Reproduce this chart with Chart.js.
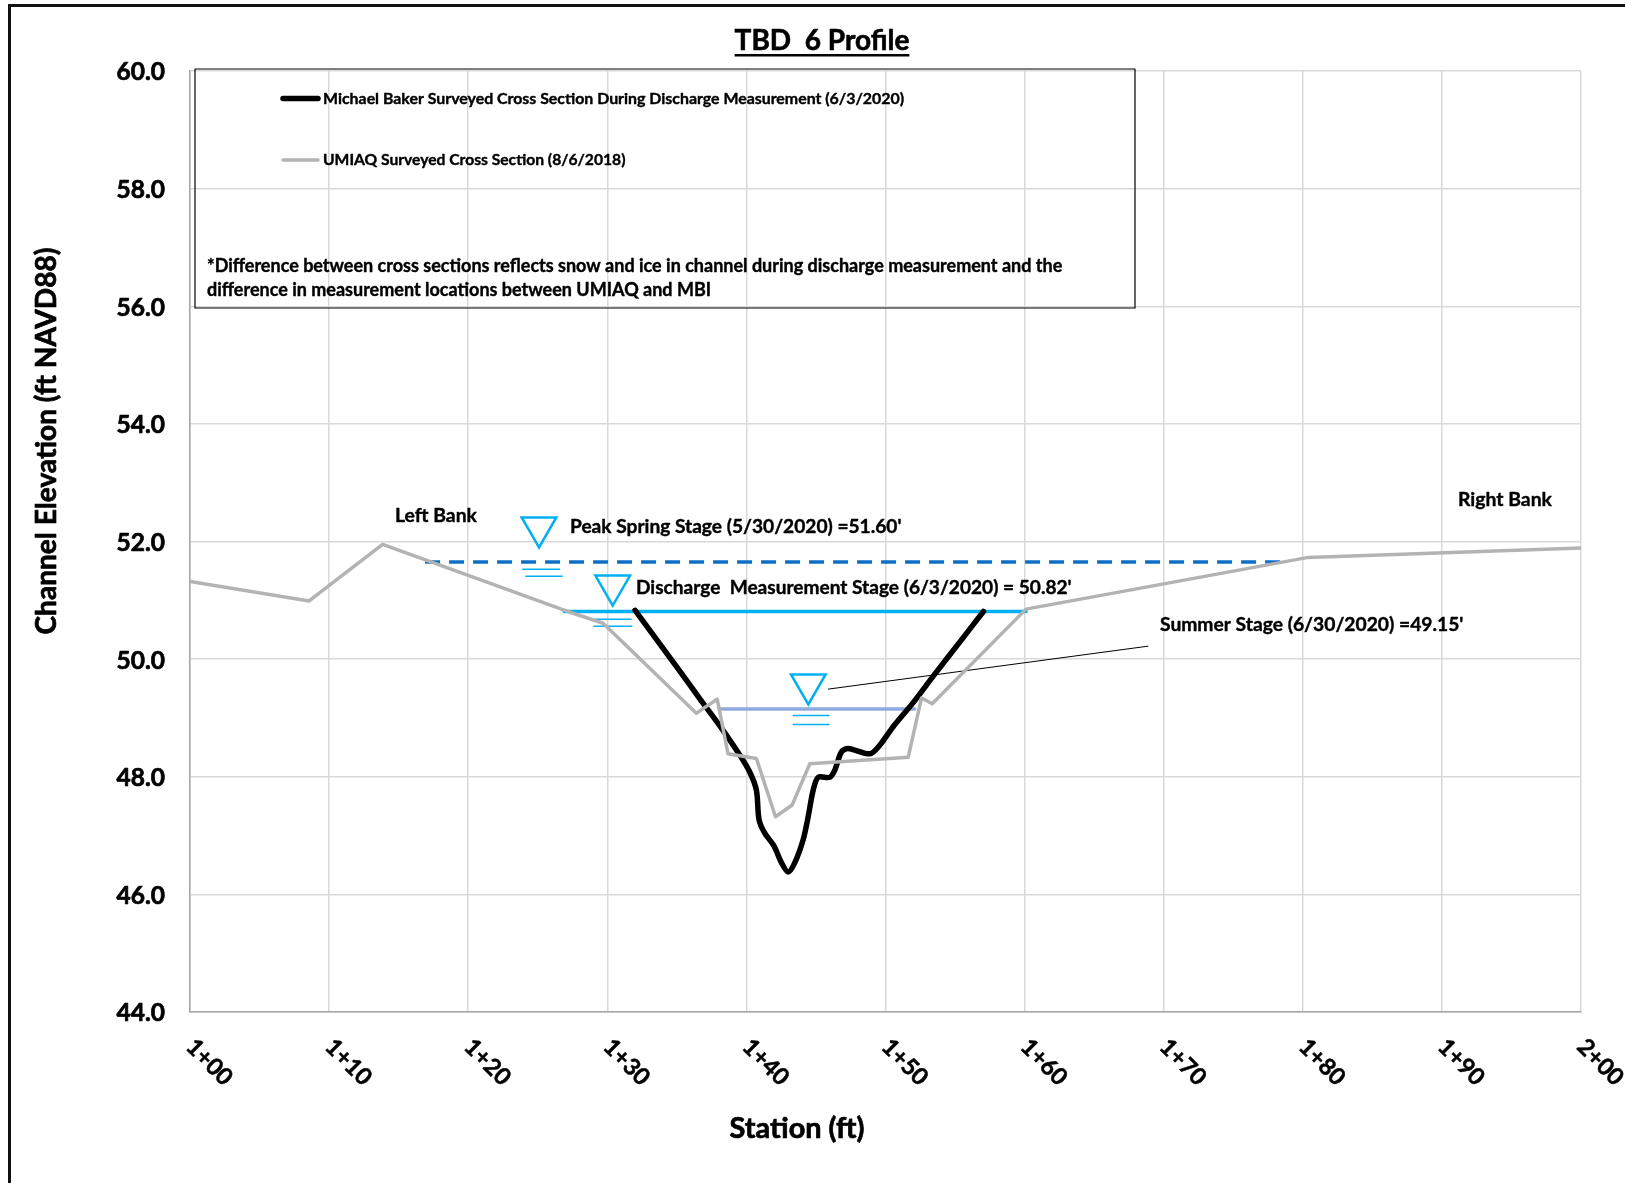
<!DOCTYPE html>
<html>
<head>
<meta charset="utf-8">
<title>TBD 6 Profile</title>
<script src="https://cdn.jsdelivr.net/npm/chart.js@4"></script>
<style>
    html, body { margin: 0; padding: 0; background: #fff; }
    #wrap { position: relative; width: 1625px; height: 1183px; }
    #frame { position: absolute; left: 8px; top: 4px; right: 0; bottom: 0; border-left: 3px solid #111; border-top: 3px solid #111; pointer-events: none; }
</style>
</head>
<body>
<div id="wrap">
    <canvas id="profileChart" width="1625" height="1183"></canvas>
    <div id="frame"></div>
</div>
<script>
// Values: station in ft (1+00 = 100), elevation in ft NAVD88
const bakerStation = [132, 135.2, 136.64, 138.08, 139.52, 140.24, 140.72, 140.91, 141.32, 141.97, 142.52, 143, 143.48, 144.08, 144.44, 144.8, 145.16, 146, 146.35, 146.83, 147.31, 148.87, 149.6, 150.55, 151.99, 153.43, 155.6, 157.04];
const bakerElev = [50.83, 49.8, 49.33, 48.87, 48.37, 48.08, 47.77, 47.27, 47.04, 46.83, 46.54, 46.38, 46.54, 46.93, 47.32, 47.77, 47.99, 47.99, 48.11, 48.42, 48.48, 48.39, 48.54, 48.85, 49.26, 49.71, 50.37, 50.81];

const umiaqStation = [100, 108.56, 113.85, 126.8, 129.7, 136.4, 137.9, 138.68, 140.72, 142.09, 143.29, 144.56, 151.63, 152.59, 153.36, 160.1, 180.4, 200];
const umiaqElev = [51.32, 50.99, 51.95, 50.84, 50.61, 49.08, 49.32, 48.39, 48.31, 47.32, 47.52, 48.22, 48.33, 49.34, 49.24, 50.85, 51.73, 51.89];

const peakStation = [116.9, 178.5];
const peakElev = [51.65, 51.65];
const dischargeStation = [126.9, 160.1];
const dischargeElev = [50.81, 50.81];
const summerStation = [138.1, 152.1];
const summerElev = [49.15, 49.15];

// water surface symbols: triangle plus two short lines under it
const markerStation = [125.09, 130.39, 144.45];
const markerElev = [52.24, 51.25, 49.57];
const ripples = [
    [[123.89, 126.6], [51.53, 51.53]],
    [[124.1, 126.8], [51.41, 51.41]],
    [[129.07, 131.75], [50.68, 50.68]],
    [[129.0, 131.8], [50.56, 50.56]],
    [[143.33, 145.98], [49.04, 49.04]],
    [[143.33, 145.98], [48.89, 48.89]]
];
const leaderStation = [145.89, 168.87];
const leaderElev = [49.49, 50.22];

const stationTicks = ['1+00', '1+10', '1+20', '1+30', '1+40', '1+50', '1+60', '1+70', '1+80', '1+90', '2+00'];

const FONT = 'Lato, "Open Sans", sans-serif';
const STAGE_BLUE = '#00B0F0';

function toPoints(xs, ys) {
    return xs.map((x, i) => ({ x: x, y: ys[i] }));
}

function lineSet(label, xs, ys, color, width, extra) {
    return Object.assign({
        label: label,
        data: toPoints(xs, ys),
        showLine: true,
        borderColor: color,
        backgroundColor: color,
        borderWidth: width,
        pointRadius: 0,
        tension: 0,
        borderCapStyle: 'round',
        borderJoinStyle: 'round'
    }, extra || {});
}

const datasets = [
    lineSet('UMIAQ Surveyed Cross Section (8/6/2018)', umiaqStation, umiaqElev, '#B3B3B3', 3.5),
    lineSet('Michael Baker Surveyed Cross Section During Discharge Measurement (6/3/2020)', bakerStation, bakerElev, '#000000', 5.5, { tension: 0.3 }),
    lineSet('Peak Spring Stage', peakStation, peakElev, '#0F6FC6', 3.5, { borderDash: [15, 9], borderCapStyle: 'butt' }),
    lineSet('Discharge Measurement Stage', dischargeStation, dischargeElev, STAGE_BLUE, 3.5),
    lineSet('Summer Stage', summerStation, summerElev, '#8FAADC', 3.5),
    lineSet('Summer Stage leader', leaderStation, leaderElev, '#000000', 1),
    {
        label: 'Stage markers',
        data: toPoints(markerStation, markerElev),
        showLine: false,
        pointStyle: 'triangle',
        pointRotation: 180,
        pointRadius: 20,
        pointBorderWidth: 2.5,
        pointBorderColor: STAGE_BLUE,
        pointBackgroundColor: 'rgba(0,0,0,0)'
    }
];
ripples.forEach((r, i) => {
    datasets.push(lineSet('ripple ' + i, r[0], r[1], STAGE_BLUE, 1.5, { borderCapStyle: 'butt' }));
});

// Lato bold is lighter than the original face, a thin stroke brings the weight up
function putText(ctx, text, x, y, size, align, heavy) {
    ctx.font = 'bold ' + size + 'px ' + FONT;
    ctx.textAlign = align || 'left';
    ctx.textBaseline = 'middle';
    ctx.fillStyle = '#000';
    ctx.strokeStyle = '#000';
    ctx.lineWidth = heavy === undefined ? 0.4 : heavy;
    ctx.lineJoin = 'round';
    ctx.strokeText(text, x, y);
    ctx.fillText(text, x, y);
}

// Title and axis titles sit off-centre in the original, so they are placed by hand
const chartText = {
    id: 'chartText',
    afterDraw(chart) {
        const ctx = chart.ctx;
        ctx.save();

        // title with underline
        putText(ctx, 'TBD  6 Profile', 822, 41, 28, 'center', 0.6);
        const w = ctx.measureText('TBD  6 Profile').width;
        ctx.fillStyle = '#000';
        ctx.fillRect(822 - w / 2, 54, w, 2.5);

        // axis titles
        putText(ctx, 'Station (ft)', 797, 1129, 28.9, 'center', 0.7);
        ctx.save();
        ctx.translate(47, 441);
        ctx.rotate(-Math.PI / 2);
        putText(ctx, 'Channel Elevation (ft NAVD88)', 0, 0, 28.1, 'center', 0.7);
        ctx.restore();

        // y tick labels
        const ys = chart.scales.y;
        ys.ticks.forEach(t => {
            putText(ctx, t.value.toFixed(1), 165, ys.getPixelForValue(t.value) + 1.5, 24.5, 'right', 0.7);
        });

        // x tick labels, slanted downward to the right
        const xs = chart.scales.x;
        xs.ticks.forEach((t, i) => {
            ctx.save();
            ctx.translate(xs.getPixelForValue(t.value), 1043);
            ctx.rotate(Math.PI / 4);
            putText(ctx, stationTicks[i], 0, 0, 23.5, 'left', 0.5);
            ctx.restore();
        });

        // legend box
        ctx.strokeStyle = '#000';
        ctx.lineWidth = 1.2;
        ctx.strokeRect(195, 69, 940, 239);
        ctx.lineCap = 'round';
        ctx.strokeStyle = '#000';
        ctx.lineWidth = 5.5;
        ctx.beginPath(); ctx.moveTo(283, 98.5); ctx.lineTo(318, 98.5); ctx.stroke();
        ctx.strokeStyle = '#B3B3B3';
        ctx.lineWidth = 3.5;
        ctx.beginPath(); ctx.moveTo(283, 160); ctx.lineTo(318, 160); ctx.stroke();
        ctx.lineCap = 'butt';
        putText(ctx, 'Michael Baker Surveyed Cross Section During Discharge Measurement (6/3/2020)', 323, 98.5, 15.9);
        putText(ctx, 'UMIAQ Surveyed Cross Section (8/6/2018)', 323, 160, 15.65);
        putText(ctx, '*Difference between cross sections reflects snow and ice in channel during discharge measurement and the', 207, 266, 18);
        putText(ctx, 'difference in measurement locations between UMIAQ and MBI', 207, 290, 18);

        // callouts
        putText(ctx, 'Left Bank', 436, 516, 19.4, 'center');
        putText(ctx, 'Right Bank', 1505, 500, 19.4, 'center');
        putText(ctx, 'Peak Spring Stage (5/30/2020) =51.60\'', 570, 527, 19.15);
        putText(ctx, 'Discharge  Measurement Stage (6/3/2020) = 50.82\'', 636, 588, 19.1);
        putText(ctx, 'Summer Stage (6/30/2020) =49.15\'', 1160, 625, 19.25);

        ctx.restore();
    }
};

new Chart(document.getElementById('profileChart').getContext('2d'), {
    type: 'scatter',
    data: { datasets: datasets },
    plugins: [chartText],
    options: {
        responsive: false,
        animation: false,
        layout: { padding: { top: 71, right: 44, left: 0, bottom: 0 } },
        plugins: {
            legend: { display: false },
            title: { display: false },
            tooltip: { enabled: false }
        },
        scales: {
            x: {
                type: 'linear',
                min: 100,
                max: 200,
                afterFit(scale) { scale.height = 171; },
                ticks: { stepSize: 10, display: false },
                grid: { color: '#D9D9D9', lineWidth: 1.5, drawTicks: false },
                border: { color: '#A6A6A6', width: 1.5 }
            },
            y: {
                type: 'linear',
                min: 44,
                max: 60,
                afterFit(scale) { scale.width = 190; },
                ticks: { stepSize: 2, display: false },
                grid: { color: '#D9D9D9', lineWidth: 1.5, drawTicks: false },
                border: { color: '#A6A6A6', width: 1.5 }
            }
        }
    }
});
</script>
</body>
</html>
